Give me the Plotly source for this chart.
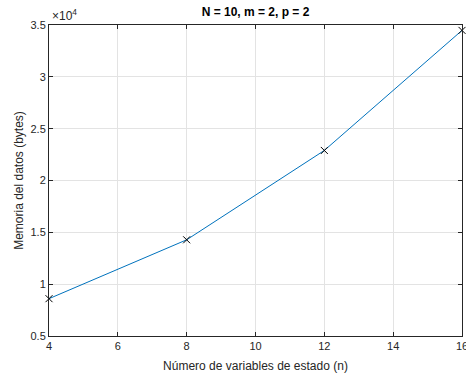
import plotly.graph_objects as go

# Memory used by the data vs. number of state variables
n_states = [4, 8, 12, 16]
memory_bytes = [8600, 14280, 22900, 34480]

y_tickvals = [5000, 10000, 15000, 20000, 25000, 30000, 35000]
y_ticktext = ["0.5", "1", "1.5", "2", "2.5", "3", "3.5"]
x_tickvals = [4, 6, 8, 10, 12, 14, 16]

font_family = "Liberation Sans, Arial, sans-serif"
axis_color = "#262626"
grid_color = "#e3e3e3"

fig = go.Figure()
fig.add_trace(go.Scatter(
    x=n_states, y=memory_bytes,
    mode="lines",
    line=dict(color="#0072BD", width=1),
    showlegend=False,
))
fig.add_trace(go.Scatter(
    x=n_states, y=memory_bytes,
    mode="markers",
    marker=dict(symbol="x-thin", size=7, line=dict(color="black", width=1)),
    showlegend=False,
    cliponaxis=False,
))

axis_common = dict(
    showline=True, linecolor=axis_color, linewidth=1, mirror="ticks",
    ticks="inside", ticklen=4, tickcolor=axis_color,
    showgrid=True, gridcolor=grid_color, gridwidth=1,
    zeroline=False, automargin=False,
    ticklabeloverflow="allow",
    tickfont=dict(family=font_family, size=11, color=axis_color),
)

fig.update_layout(
    width=466, height=376,
    margin=dict(l=49, r=4, t=25, b=40),
    paper_bgcolor="white", plot_bgcolor="white",
    font=dict(family=font_family, color=axis_color),
    title=dict(
        text="<b>N = 10, m = 2, p = 2</b>",
        x=(49 + 462) / 2 / 466, xanchor="center",
        y=1 - 12 / 376, yanchor="middle",
        font=dict(family=font_family, size=12, color="black"),
    ),
    xaxis=dict(
        range=[4, 16], tickvals=x_tickvals,
        title=dict(text="Número de variables de estado (n)",
                   font=dict(family=font_family, size=12, color=axis_color),
                   standoff=10),
        **axis_common,
    ),
    yaxis=dict(
        range=[5000, 35000], tickvals=y_tickvals, ticktext=y_ticktext,
        title=dict(text="Memoria del datos (bytes)",
                   font=dict(family=font_family, size=12, color=axis_color),
                   standoff=4),
        **axis_common,
    ),
)

fig.add_annotation(
    text="×10<sup>4</sup>", xref="paper", yref="paper",
    x=0, y=1, xanchor="left", yanchor="bottom", xshift=1,
    showarrow=False,
    font=dict(family=font_family, size=12, color=axis_color),
)

fig.write_html("out.html")
